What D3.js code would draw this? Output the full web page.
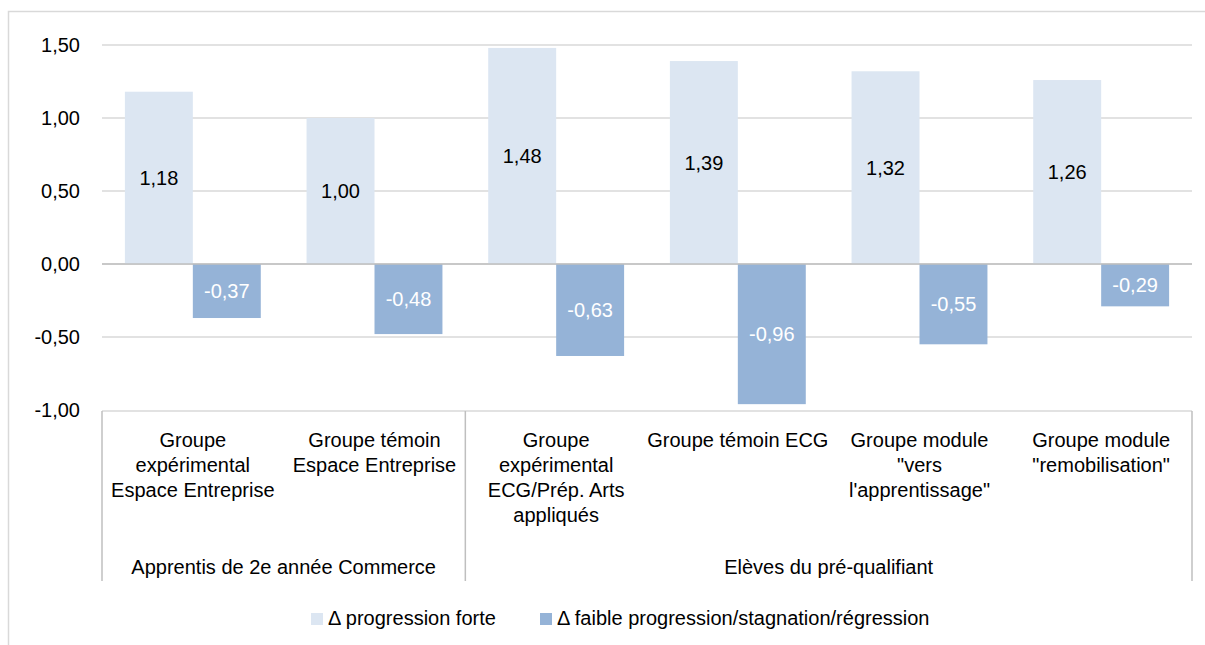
<!DOCTYPE html>
<html lang="fr">
<head>
<meta charset="UTF-8">
<title>Progression</title>
<script src="https://cdn.jsdelivr.net/npm/d3@7"></script>
<style>
  body { margin: 0; background: #fff; }
  svg text { font-family: "Liberation Sans", Arial, sans-serif; font-size: 20px; fill: #000; }
  .grid line { stroke: #d9d9d9; stroke-width: 1.5px; }
</style>
</head>
<body>
<div id="chart"></div>
<script>
// categories (each label split into its wrapped lines)
var categories = [
  ["Groupe", "expérimental", "Espace Entreprise"],
  ["Groupe témoin", "Espace Entreprise"],
  ["Groupe", "expérimental", "ECG/Prép. Arts", "appliqués"],
  ["Groupe témoin ECG"],
  ["Groupe module", "\"vers", "l'apprentissage\""],
  ["Groupe module", "\"remobilisation\""]
];
var superGroups = ["Apprentis de 2e année Commerce", "Elèves du pré-qualifiant"];
var superSpan = [2, 4];
var seriesNames = ["Δ progression forte", "Δ faible progression/stagnation/régression"];
var forte = [1.18, 1.00, 1.48, 1.39, 1.32, 1.26];
var faible = [-0.37, -0.48, -0.63, -0.96, -0.55, -0.29];
var yTicks = [-1, -0.5, 0, 0.5, 1, 1.5];

var colors = ["#dce6f2", "#95b3d7"];
var W = 1205, H = 645;
var plotL = 102, plotR = 1192, plotT = 45, plotB = 410;

var svg = d3.select("#chart").append("svg")
  .attr("width", W).attr("height", H);

// outer frame
svg.append("rect")
  .attr("x", 8.5).attr("y", 11.5)
  .attr("width", W + 10).attr("height", H + 10)
  .attr("fill", "none").attr("stroke", "#d9d9d9").attr("stroke-width", 1.5);

var fmt = function (v) { return d3.format(".2f")(v).replace(".", ",").replace("−", "-"); };

var x = d3.scaleBand().domain(d3.range(categories.length)).range([plotL, plotR]);
var y = d3.scaleLinear().domain([-1, 1.5]).range([plotB, plotT]);
var pad = x.bandwidth() * 0.126;
var bw = (x.bandwidth() - 2 * pad) / 2;

// grid lines
var grid = svg.append("g").attr("class", "grid");
grid.selectAll("line").data(yTicks.filter(function (d) { return d !== -1; }))
  .enter().append("line")
  .attr("x1", plotL).attr("x2", plotR)
  .attr("y1", function (d) { return y(d); }).attr("y2", function (d) { return y(d); });

// y axis labels
var yAxis = svg.append("g").attr("transform", "translate(80,0)")
  .call(d3.axisLeft(y).tickValues(yTicks).tickSize(0).tickPadding(0).tickFormat(fmt));
yAxis.select(".domain").remove();
yAxis.selectAll("text").style("font-size", "20px").style("font-family", "'Liberation Sans', Arial, sans-serif").attr("fill", "#000");

// bars
var series = [forte, faible];
series.forEach(function (vals, s) {
  var g = svg.append("g");
  g.selectAll("rect").data(vals).enter().append("rect")
    .attr("x", function (d, i) { return x(i) + pad + s * bw; })
    .attr("y", function (d) { return y(Math.max(0, d)); })
    .attr("width", bw)
    .attr("height", function (d) { return Math.abs(y(d) - y(0)); })
    .attr("fill", colors[s]);
  g.selectAll("text").data(vals).enter().append("text")
    .attr("x", function (d, i) { return x(i) + pad + s * bw + bw / 2; })
    .attr("y", function (d) { return (y(d) + y(0)) / 2; })
    .attr("dy", "0.35em")
    .attr("text-anchor", "middle")
    .style("fill", s === 0 ? "#000" : "#fff")
    .text(fmt);
});

// zero line on top
svg.append("line")
  .attr("x1", plotL).attr("x2", plotR)
  .attr("y1", y(0)).attr("y2", y(0))
  .attr("stroke", "#bfbfbf").attr("stroke-width", 1.5);

// category box
var axisG = svg.append("g");
axisG.append("line").attr("x1", plotL).attr("x2", plotR).attr("y1", plotB + 1).attr("y2", plotB + 1)
  .attr("stroke", "#d9d9d9").attr("stroke-width", 1.5);
var divs = [0];
superSpan.reduce(function (a, b) { divs.push(a + b); return a + b; }, 0);
divs.forEach(function (k) {
  var xx = k < categories.length ? x(k) : plotR;
  axisG.append("line").attr("x1", xx).attr("x2", xx).attr("y1", plotB + 1).attr("y2", 581)
    .attr("stroke", "#bfbfbf").attr("stroke-width", 1.5);
});

categories.forEach(function (lines, i) {
  var t = axisG.append("text").attr("text-anchor", "middle")
    .attr("x", x(i) + x.bandwidth() / 2).attr("y", 447);
  lines.forEach(function (ln, j) {
    t.append("tspan").attr("x", x(i) + x.bandwidth() / 2).attr("y", 447 + j * 25).text(ln);
  });
});

superGroups.forEach(function (name, k) {
  var a = divs[k], b = divs[k + 1];
  var x0 = x(a), x1 = b < categories.length ? x(b) : plotR;
  axisG.append("text").attr("text-anchor", "middle")
    .attr("x", (x0 + x1) / 2).attr("y", 574).text(name);
});

// legend
var legX = [311, 540];
seriesNames.forEach(function (name, s) {
  var lg = svg.append("g").attr("transform", "translate(" + legX[s] + ",613)");
  lg.append("rect").attr("width", 12).attr("height", 12).attr("fill", colors[s]);
  lg.append("text").attr("x", 17).attr("y", 12).text(name);
});
</script>
</body>
</html>
